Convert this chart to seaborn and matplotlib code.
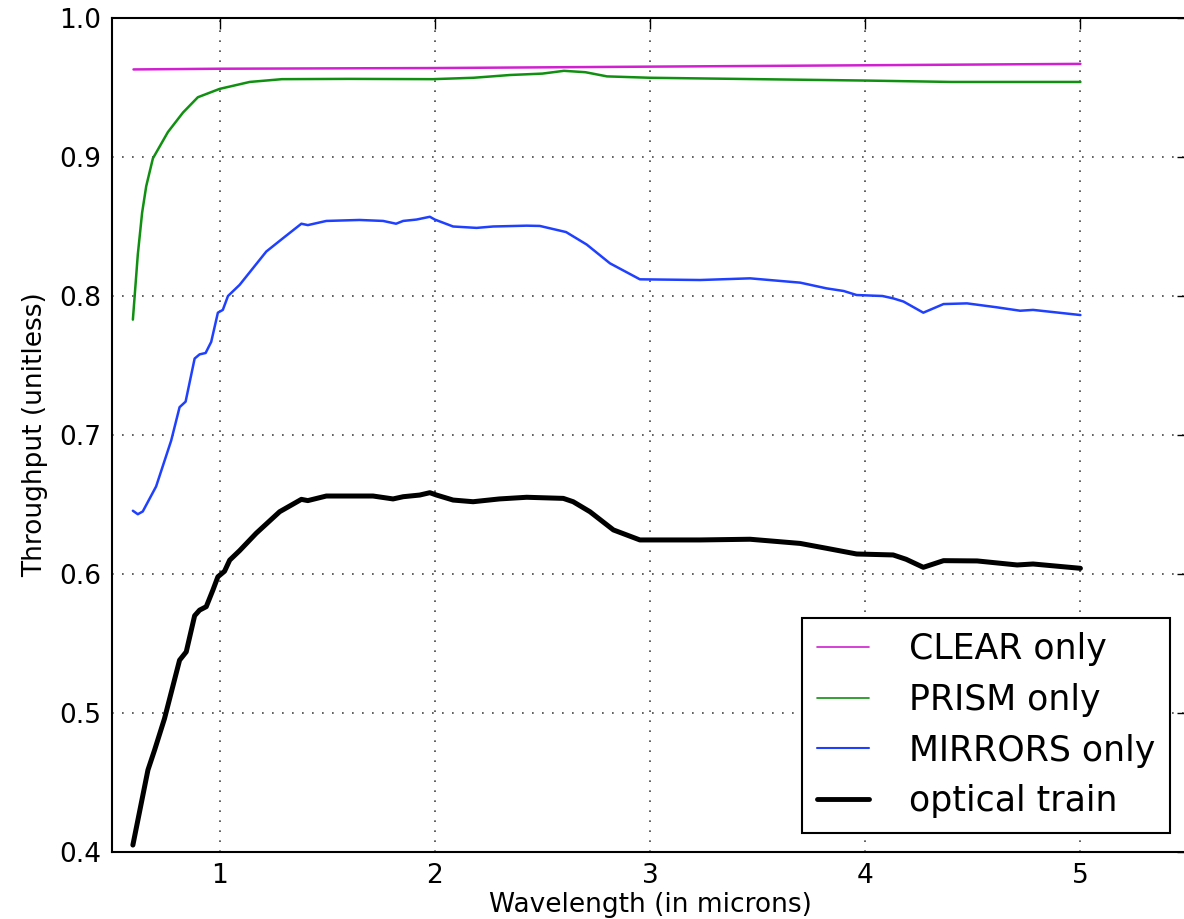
import matplotlib
matplotlib.use("Agg")
import matplotlib.pyplot as plt
import seaborn as sns
import pandas as pd

# ---- data ----
clear_x = [0.6, 1.0, 2.0, 3.0, 4.0, 5.0]
clear_y = [0.963, 0.9635, 0.964, 0.965, 0.966, 0.967]

prism_x = [0.597, 0.62, 0.64, 0.659, 0.69, 0.76, 0.83, 0.899, 1.0, 1.14, 1.29, 1.6, 1.99,
           2.18, 2.35, 2.5, 2.6, 2.7, 2.8, 3.0, 3.5, 4.0, 4.4, 5.0]
prism_y = [0.783, 0.83, 0.86, 0.879, 0.899, 0.918, 0.932, 0.943, 0.949, 0.954, 0.956, 0.9562, 0.956,
           0.957, 0.959, 0.960, 0.962, 0.961, 0.958, 0.957, 0.956, 0.955, 0.954, 0.954]

mirror_x = [0.597, 0.62, 0.643, 0.705, 0.775, 0.814, 0.842, 0.884, 0.907, 0.935, 0.961, 0.992,
            1.015, 1.039, 1.093, 1.217, 1.294, 1.38, 1.41, 1.496, 1.65, 1.76, 1.82, 1.853,
            1.915, 1.977, 2.0, 2.085, 2.194, 2.271, 2.427, 2.488, 2.61, 2.706, 2.814, 2.953,
            3.233, 3.465, 3.698, 3.82, 3.9, 3.96, 4.08, 4.13, 4.178, 4.27, 4.364, 4.473,
            4.61, 4.72, 4.78, 5.0]
mirror_y = [0.6455, 0.643, 0.645, 0.663, 0.696, 0.720, 0.724, 0.755, 0.758, 0.759, 0.767, 0.788,
            0.790, 0.800, 0.808, 0.832, 0.8415, 0.852, 0.851, 0.854, 0.8547, 0.854, 0.852, 0.854,
            0.855, 0.857, 0.855, 0.850, 0.849, 0.850, 0.8506, 0.8504, 0.846, 0.837, 0.8235, 0.812,
            0.8115, 0.8127, 0.8096, 0.8055, 0.8036, 0.8007, 0.800, 0.7983, 0.796, 0.788, 0.7942, 0.7947,
            0.7919, 0.7894, 0.790, 0.7863]

train_x = [0.597, 0.667, 0.698, 0.744, 0.814, 0.845, 0.884, 0.907, 0.938, 0.969, 0.992, 1.023,
           1.047, 1.093, 1.17, 1.279, 1.38, 1.41, 1.496, 1.713, 1.806, 1.853, 1.93, 1.977,
           2.008, 2.085, 2.178, 2.30, 2.427, 2.597, 2.643, 2.721, 2.83, 2.953, 3.233, 3.465,
           3.698, 3.82, 3.96, 4.13, 4.19, 4.27, 4.364, 4.52, 4.706, 4.78, 5.0]
train_y = [0.405, 0.459, 0.4734, 0.496, 0.538, 0.544, 0.570, 0.574, 0.5765, 0.5885, 0.598, 0.602,
           0.610, 0.6168, 0.6293, 0.6448, 0.6537, 0.6528, 0.6561, 0.6561, 0.654, 0.6556, 0.6568, 0.6585,
           0.6568, 0.6532, 0.652, 0.654, 0.6552, 0.6544, 0.652, 0.6448, 0.6317, 0.6245, 0.6245, 0.625,
           0.622, 0.6185, 0.6144, 0.6137, 0.6106, 0.6048, 0.6096, 0.6094, 0.6065, 0.6072, 0.6041]

labels = ["CLEAR only", "PRISM only", "MIRRORS only", "optical train"]
colors = ["#d020d0", "#109010", "#2040ff", "#000000"]
widths = [1.8, 1.8, 1.8, 3.6]
x_ticks = [1, 2, 3, 4, 5]
y_ticks = [0.4, 0.5, 0.6, 0.7, 0.8, 0.9, 1.0]

sns.set_theme(style="white")
plt.rcParams.update({
    "font.family": ["DejaVu Sans"],
    "text.color": "black", "axes.labelcolor": "black",
    "xtick.direction": "in", "ytick.direction": "in",
    "xtick.top": True, "ytick.right": True,
    "xtick.major.size": 8, "ytick.major.size": 8,
    "xtick.major.width": 1, "ytick.major.width": 1,
    "xtick.color": "black", "ytick.color": "black",
    "axes.edgecolor": "black", "axes.linewidth": 1.5,
})

fig = plt.figure(figsize=(11.84, 9.19), dpi=100)
ax = fig.add_axes([112 / 1184, 67 / 919, (1188 - 112) / 1184, (852 - 18) / 919])

series = [(clear_x, clear_y), (prism_x, prism_y), (mirror_x, mirror_y), (train_x, train_y)]
for (xs, ys), lab, col, lw in zip(series, labels, colors, widths):
    df = pd.DataFrame({"x": xs, "y": ys})
    sns.lineplot(data=df, x="x", y="y", ax=ax, color=col, lw=lw, label=lab, sort=False,
                 estimator=None)

ax.set_xlim(0.5, 5.5)
ax.set_ylim(0.4, 1.0)
ax.set_xticks(x_ticks)
ax.set_xticklabels([str(v) for v in x_ticks])
ax.set_yticks(y_ticks)
ax.set_yticklabels([f"{v:.1f}" for v in y_ticks])
ax.tick_params(labelsize=19, pad=8)
ax.grid(True, color="#444444", linestyle=(0, (1, 5)), linewidth=1.2)
ax.set_xlabel("Wavelength (in microns)", fontsize=19, labelpad=2, color="black")
ax.set_ylabel("Throughput (unitless)", fontsize=19, labelpad=8, color="black")

leg = ax.legend(loc="lower right", bbox_to_anchor=(0.983, 0.023), borderaxespad=0,
                fontsize=25, frameon=True, fancybox=False, handlelength=1.5,
                handletextpad=1.15, labelspacing=0.48, borderpad=0.42)
leg.get_frame().set_edgecolor("black")
leg.get_frame().set_linewidth(1.5)
leg.get_frame().set_alpha(1)
for line, lw in zip(leg.get_lines(), [1.2, 1.2, 1.5, 3.5]):
    line.set_linewidth(lw)

fig.savefig("out.png", dpi=100, facecolor="white")
